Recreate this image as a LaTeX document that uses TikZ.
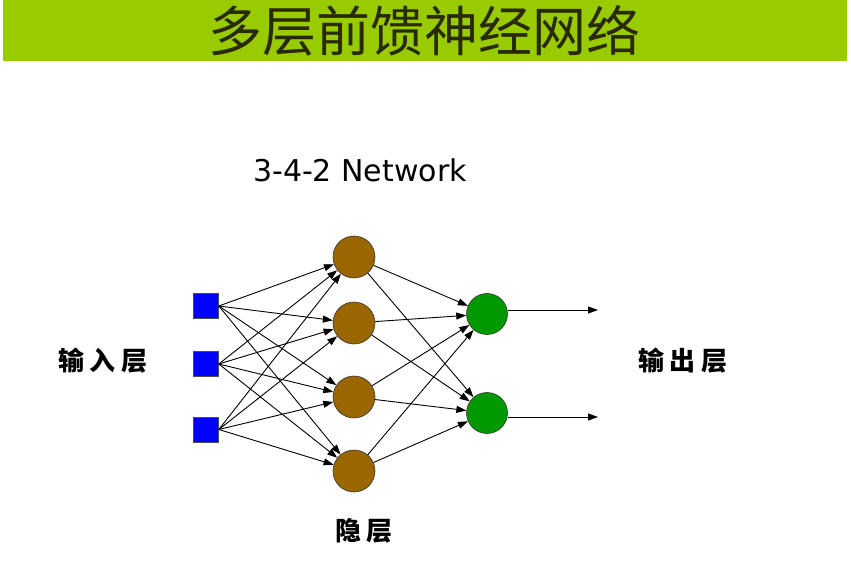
\documentclass[tikz,border=0pt]{standalone}
\usepackage{fontspec}
\usetikzlibrary{arrows.meta}
\newfontfamily\cjk{Noto Sans CJK SC}
\setmainfont{DejaVu Sans}
\definecolor{banner}{HTML}{99CC00}
\definecolor{titlec}{HTML}{2A2A00}
\definecolor{inbox}{HTML}{0000FF}
\definecolor{hid}{HTML}{996600}
\definecolor{outc}{HTML}{009900}
\newcommand{\gp}{\hspace{6pt}}
\begin{document}
\begin{tikzpicture}[x=1pt,y=-1pt,
  inp/.style={draw=black!70,fill=inbox,minimum size=25pt,inner sep=0pt,line width=0.6pt},
  hidn/.style={circle,draw=black!80,fill=hid,minimum size=42pt,inner sep=0pt,line width=0.6pt},
  outn/.style={circle,draw=black!80,fill=outc,minimum size=41pt,inner sep=0pt,line width=0.6pt},
  conn/.style={-{Triangle[length=10pt,width=7pt]},line width=0.9pt},
  lab/.style={font=\cjk\bfseries\fontsize{26}{26}\selectfont}]
\useasboundingbox (0,0) rectangle (851,561);
\fill[banner] (3,0) rectangle (847,61);
\node[font=\cjk\fontsize{54}{54}\selectfont,text=titlec] (title) at (424,31) {多层前馈神经网络};
\node[font=\fontsize{30}{30}\selectfont] (net) at (360,170) {3-4-2 Network};
\node[inp] (i1) at (206,306) {};
\node[inp] (i2) at (206,364) {};
\node[inp] (i3) at (206,429.5) {};
\node[hidn] (h1) at (354,257) {};
\node[hidn] (h2) at (354,323) {};
\node[hidn] (h3) at (354,397) {};
\node[hidn] (h4) at (354,471) {};
\node[outn] (o1) at (487,314) {};
\node[outn] (o2) at (487,413) {};
\coordinate (e1) at (598,310);
\coordinate (e2) at (598,417);
\foreach \i in {1,2,3}{\foreach \h in {1,2,3,4}{\draw[conn] (i\i.east) -- (h\h);}}
\foreach \h in {1,2,3,4}{\foreach \o in {1,2}{\draw[conn] (h\h) -- (o\o);}}
\draw[conn] (o1.east |- e1) -- (e1);
\draw[conn] (o2.east |- e2) -- (e2);
\node[lab] (lin) at (103,361) {输\gp 入\gp 层};
\node[lab] (lout) at (683,361) {输\gp 出\gp 层};
\node[lab] (lhid) at (364,531) {隐\gp 层};
\end{tikzpicture}
\end{document}
